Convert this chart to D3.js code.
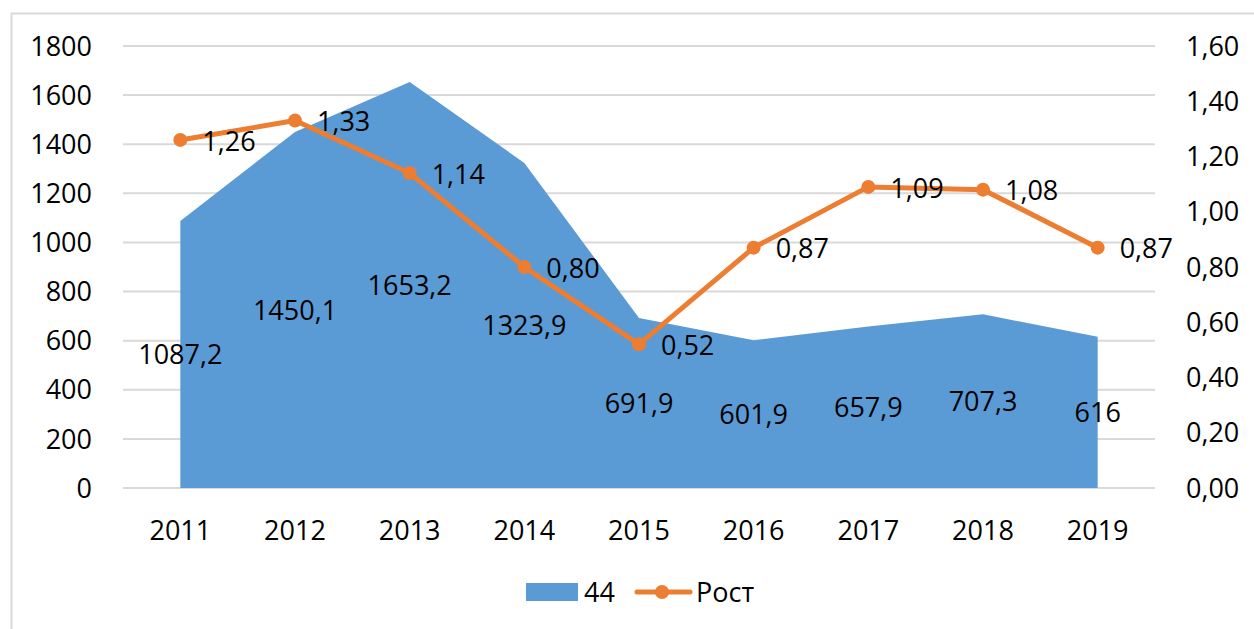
<!DOCTYPE html>
<html>
<head>
<meta charset="utf-8">
<script src="https://cdnjs.cloudflare.com/ajax/libs/d3/7.8.5/d3.min.js"></script>
<style>
  body { margin: 0; background: #fff; }
  svg text { font-family: "Open Sans", sans-serif; fill: #000; }
</style>
</head>
<body>
<div class="container"></div>
<script>
var w = 1254;
var h = 629;

var years = ["2011", "2012", "2013", "2014", "2015", "2016", "2017", "2018", "2019"];
var vals44 = [1087.2, 1450.1, 1653.2, 1323.9, 691.9, 601.9, 657.9, 707.3, 616];
var growth = [1.26, 1.33, 1.14, 0.80, 0.52, 0.87, 1.09, 1.08, 0.87];
var leftTicks = [0, 200, 400, 600, 800, 1000, 1200, 1400, 1600, 1800];
var rightTicks = [0, 0.2, 0.4, 0.6, 0.8, 1.0, 1.2, 1.4, 1.6];

var blue = "#5b9bd5";
var orange = "#ed7d31";
var fs = 27;
var fmt = (v) => String(v).replace(".", ",");
var fmt2 = (v) => v.toFixed(2).replace(".", ",");

var svg = d3.select(".container").append("svg")
  .attr("width", w)
  .attr("height", h);

// frame
svg.append("path")
  .attr("d", "M11.5," + h + "V13.5H" + w)
  .attr("fill", "none")
  .attr("stroke", "#d9d9d9")
  .attr("stroke-width", 2);

var plotL = 123, plotR = 1155, plotT = 46, plotB = 488;

var x = d3.scaleBand().domain(years).range([plotL, plotR]);
var cx = (d) => x(d) + x.bandwidth() / 2;
var yL = d3.scaleLinear().domain([0, 1800]).range([plotB, plotT]);
var yR = d3.scaleLinear().domain([0, 1.6]).range([plotB, plotT]);

// gridlines
svg.append("g").selectAll("line").data(leftTicks).enter().append("line")
  .attr("x1", plotL).attr("x2", plotR)
  .attr("y1", (d) => yL(d)).attr("y2", (d) => yL(d))
  .attr("stroke", "#d9d9d9").attr("stroke-width", 2);

// area
var area = d3.area()
  .x((d, i) => cx(years[i]))
  .y0(plotB)
  .y1((d) => yL(d));
svg.append("path").datum(vals44)
  .attr("d", area)
  .attr("fill", blue);

// left axis labels
svg.append("g").selectAll("text").data(leftTicks).enter().append("text")
  .attr("x", 92).attr("y", (d) => yL(d))
  .attr("dy", "0.36em")
  .attr("text-anchor", "end")
  .attr("font-size", fs)
  .text((d) => d);

// right axis labels
svg.append("g").selectAll("text").data(rightTicks).enter().append("text")
  .attr("x", 1186).attr("y", (d) => yR(d))
  .attr("dy", "0.36em")
  .attr("font-size", fs)
  .text((d) => fmt2(d));

// x labels
svg.append("g").selectAll("text").data(years).enter().append("text")
  .attr("x", (d) => cx(d)).attr("y", 530)
  .attr("dy", "0.36em")
  .attr("text-anchor", "middle")
  .attr("font-size", fs)
  .text((d) => d);

// area labels
svg.append("g").selectAll("text").data(vals44).enter().append("text")
  .attr("x", (d, i) => cx(years[i]))
  .attr("y", (d) => yL(d / 2))
  .attr("dy", "0.36em")
  .attr("text-anchor", "middle")
  .attr("font-size", fs)
  .text((d) => fmt(d));

// growth line
var line = d3.line()
  .x((d, i) => cx(years[i]))
  .y((d) => yR(d));
svg.append("path").datum(growth)
  .attr("d", line)
  .attr("fill", "none")
  .attr("stroke", orange)
  .attr("stroke-width", 5)
  .attr("stroke-linejoin", "round");

svg.append("g").selectAll("circle").data(growth).enter().append("circle")
  .attr("cx", (d, i) => cx(years[i]))
  .attr("cy", (d) => yR(d))
  .attr("r", 7)
  .attr("fill", orange);

svg.append("g").selectAll("text").data(growth).enter().append("text")
  .attr("x", (d, i) => cx(years[i]) + 22)
  .attr("y", (d) => yR(d) + 1)
  .attr("dy", "0.36em")
  .attr("font-size", fs)
  .text((d) => fmt2(d));

// legend
var lg = svg.append("g");
lg.append("rect").attr("x", 526).attr("y", 583).attr("width", 52).attr("height", 18).attr("fill", blue);
lg.append("text").attr("x", 584).attr("y", 592).attr("dy", "0.36em").attr("font-size", fs).text("44");
lg.append("line").attr("x1", 637).attr("x2", 690).attr("y1", 592).attr("y2", 592)
  .attr("stroke", orange).attr("stroke-width", 5).attr("stroke-linecap", "round");
lg.append("circle").attr("cx", 662).attr("cy", 592).attr("r", 7).attr("fill", orange);
lg.append("text").attr("x", 696).attr("y", 592).attr("dy", "0.36em").attr("font-size", fs).text("Рост");
</script>
</body>
</html>
